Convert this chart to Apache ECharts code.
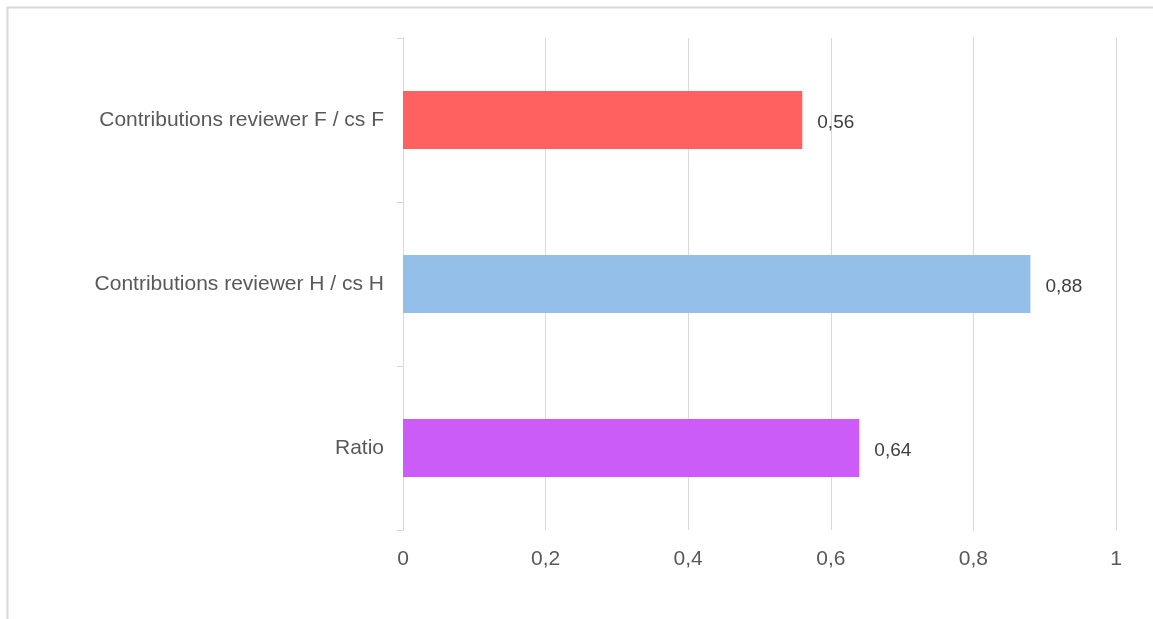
<!DOCTYPE html>
<html>
<head>
<meta charset="utf-8">
<script src="https://cdn.jsdelivr.net/npm/echarts@6/dist/echarts.min.js"></script>
<style>
html,body{margin:0;padding:0;background:#fff;}
#chart{width:1153px;height:619px;}
</style>
</head>
<body>
<div id="chart"></div>
<script>
const categories = ['Contributions reviewer F / cs F', 'Contributions reviewer H / cs H', 'Ratio'];
const values = [0.56, 0.88, 0.64];
const barColors = ['#FF6161', '#93BFE9', '#CC5CF7'];
const xTicks = [0, 0.2, 0.4, 0.6, 0.8, 1];

const fmt = v => String(v).replace('.', ',');

const chart = echarts.init(document.getElementById('chart'), null, {renderer: 'canvas'});
chart.setOption({
  backgroundColor: '#fff',
  animation: false,
  graphic: [{
    type: 'rect',
    shape: {x: 7.5, y: 7.5, width: 1160, height: 640},
    style: {fill: 'none', stroke: '#d9d9d9', lineWidth: 2},
    silent: true
  }],
  grid: {left: 403, right: 37, top: 38, bottom: 89, containLabel: false},
  xAxis: {
    type: 'value',
    min: xTicks[0],
    max: xTicks[xTicks.length - 1],
    interval: 0.2,
    axisLine: {show: false},
    axisTick: {show: false},
    splitLine: {show: true, lineStyle: {color: '#d9d9d9', width: 1}},
    axisLabel: {
      margin: 19,
      color: '#595959',
      fontFamily: 'Liberation Sans, Arial, sans-serif',
      fontSize: 21,
      formatter: v => fmt(v)
    }
  },
  yAxis: {
    type: 'category',
    data: categories,
    inverse: true,
    axisLine: {show: true, lineStyle: {color: '#d9d9d9', width: 1}},
    axisTick: {show: true, length: 6, lineStyle: {color: '#d9d9d9'}},
    splitLine: {show: false},
    axisLabel: {
      margin: 19,
      color: '#595959',
      fontFamily: 'Liberation Sans, Arial, sans-serif',
      fontSize: 21,
      padding: [4, 0, 0, 0]
    }
  },
  series: [{
    type: 'bar',
    data: values.map((v, i) => ({value: v, itemStyle: {color: barColors[i]}})),
    barWidth: '35.5%',
    label: {
      show: true,
      position: 'right',
      distance: 15,
      offset: [0, 3],
      color: '#404040',
      fontFamily: 'Liberation Sans, Arial, sans-serif',
      fontSize: 19,
      formatter: p => fmt(p.value)
    }
  }]
});
</script>
</body>
</html>
